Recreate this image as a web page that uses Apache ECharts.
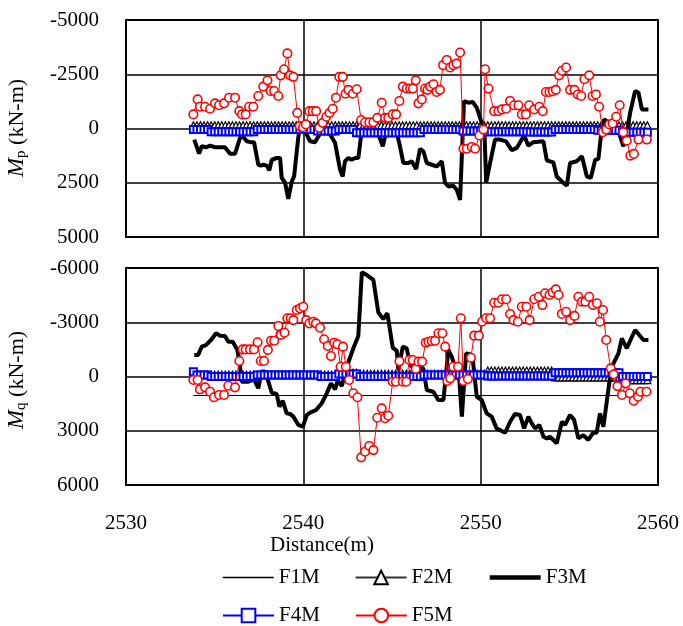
<!DOCTYPE html>
<html>
<head>
<meta charset="utf-8">
<script src="https://cdn.jsdelivr.net/npm/echarts@6/dist/echarts.min.js"></script>
<style>
html,body{margin:0;padding:0;background:#fff;}
#chart{width:683px;height:626px;}
</style>
</head>
<body>
<div id="chart"></div>
<script>
// Shared station grid for F2M / F4M markers (m)
const gridDist = [
2533.8,2534.0,2534.2,2534.4,2534.6,2534.8,2535.0,2535.2,2535.4,2535.6,
2535.8,2536.0,2536.2,2536.4,2536.6,2536.8,2537.0,2537.2,2537.4,2537.6,
2537.8,2538.0,2538.2,2538.4,2538.6,2538.8,2539.0,2539.2,2539.4,2539.6,
2539.8,2540.0,2540.2,2540.4,2540.6,2540.8,2541.0,2541.2,2541.4,2541.6,
2541.8,2542.0,2542.2,2542.4,2542.6,2542.8,2543.0,2543.2,2543.4,2543.6,
2543.8,2544.0,2544.2,2544.4,2544.6,2544.8,2545.0,2545.2,2545.4,2545.6,
2545.8,2546.0,2546.2,2546.4,2546.6,2546.8,2547.0,2547.2,2547.4,2547.6,
2547.8,2548.0,2548.2,2548.4,2548.6,2548.8,2549.0,2549.2,2549.4,2549.6,
2549.8,2550.0,2550.2,2550.4,2550.6,2550.8,2551.0,2551.2,2551.4,2551.6,
2551.8,2552.0,2552.2,2552.4,2552.6,2552.8,2553.0,2553.2,2553.4,2553.6,
2553.8,2554.0,2554.2,2554.4,2554.6,2554.8,2555.0,2555.2,2555.4,2555.6,
2555.8,2556.0,2556.2,2556.4,2556.6,2556.8,2557.0,2557.2,2557.4,2557.6,
2557.8,2558.0,2558.2,2558.4,2558.6,2558.8,2559.0,2559.2,2559.4];

// F1M (thin line)
const f1Dist = [2533.8, 2559.4];
const f1pVal = [0, 0];
const f1qVal = [1050, 1050];

// F2M (triangles) on gridDist
const f2pVal = [
-150,-150,-150,-150,-150,-150,-150,-150,-150,-150,
-150,-150,-150,-150,-150,-150,-150,-150,-150,-150,
-150,-150,-150,-150,-150,-150,-150,-150,-150,-150,
-150,-150,-150,-150,-150,-150,-150,-150,-150,-150,
-150,-150,-150,-150,-150,-150,-150,-150,-150,-150,
-150,-150,-150,-150,-150,-150,-150,-150,-150,-150,
-150,-150,-150,-150,-150,-150,-150,-150,-150,-150,
-150,-150,-150,-150,-150,-150,-150,-150,-150,-150,
-150,-150,-150,-150,-150,-150,-150,-150,-150,-150,
-150,-150,-150,-150,-150,-150,-150,-150,-150,-150,
-150,-150,-150,-150,-150,-150,-150,-150,-150,-150,
-150,-150,-150,-150,-150,-150,-150,-150,-150,-150,
-150,-150,-150,-150,-150,-150,-150,-150,-150];
const f2qVal = [
-100,-100,-100,-100,-100,-100,-100,-100,-100,-100,
-100,-100,-100,-100,-100,-100,-100,-100,-100,-100,
-100,-100,-100,-100,-100,-100,-100,-100,-100,-100,
-100,-100,-100,-100,-100,-100,-100,-100,-100,-100,
-100,-200,-200,-200,-200,-200,-200,-150,-150,-150,
-150,-150,-150,-150,-150,-150,-150,-150,-150,-150,
-150,-150,-150,-150,-150,-150,-150,-150,-150,-150,
-150,-150,-150,-150,-150,-150,-150,-150,-150,-150,
-150,-150,-150,-330,-330,-330,-330,-330,-330,-330,
-330,-330,-330,-330,-330,-330,-330,-330,-330,-330,
-330,-330,50,50,50,50,50,50,50,50,
50,50,50,50,50,50,50,50,50,50,
50,200,200,200,200,200,200,200,200];

// F4M (squares) on gridDist
const f4pVal = [
50,50,50,50,50,150,150,150,150,150,
150,150,150,150,150,150,150,150,50,50,
50,50,50,50,50,50,50,50,50,50,
50,50,50,50,50,120,120,120,120,120,
120,50,50,50,50,50,200,200,200,200,
200,200,200,200,200,200,200,200,200,200,
200,200,200,200,200,50,50,50,50,50,
50,50,50,50,50,50,120,120,120,120,
120,120,150,150,150,150,150,150,150,150,
150,150,150,150,150,160,160,160,160,160,
160,160,50,50,50,50,50,50,50,50,
50,50,50,50,80,80,80,80,80,80,
80,170,170,170,170,170,170,170,170];
const f4qVal = [
-260,-80,-80,-80,-80,0,0,0,0,0,
0,0,0,0,0,0,0,0,-80,-80,
-80,-80,-80,-80,-80,-80,-80,-80,-80,-80,
-80,-80,-80,-80,-80,-80,0,0,0,0,
0,-140,-140,-140,-140,-140,-140,0,0,0,
0,0,0,0,0,0,0,0,0,0,
0,0,0,0,0,-80,-80,-80,-80,-80,
-80,-80,-80,-80,-80,-80,-80,-80,-80,-80,
-80,-80,-80,-30,-30,-30,-30,-30,-30,-30,
-30,-30,-30,-30,-30,-30,-30,-30,-30,-30,
-30,-30,-210,-210,-210,-210,-210,-210,-210,-210,
-210,-210,-210,-210,-210,-210,-210,-210,-210,-210,
-210,0,0,0,0,0,0,0,0];

// F3M (thick line), Mp panel
const f3pDist = [2533.85,2534.12,2534.27,2534.51,2534.74,2535.02,2535.58,2535.87,2536.15,2536.43,
2536.58,2536.81,2537.03,2537.22,2537.46,2537.61,2537.74,2537.94,2538.08,2538.22,
2538.50,2538.69,2538.78,2538.97,2539.15,2539.35,2539.48,2539.63,2539.79,2540.10,
2540.38,2540.66,2540.85,2541.13,2541.51,2541.79,2542.07,2542.22,2542.35,2542.54,
2542.73,2542.92,2543.10,2543.30,2543.48,2544.14,2544.48,2544.61,2544.89,2545.27,
2545.45,2545.64,2545.92,2546.11,2546.36,2546.58,2546.77,2546.96,2547.24,2547.52,
2547.81,2547.99,2548.18,2548.46,2548.65,2548.84,2549.06,2549.31,2549.55,2549.78,
2550.06,2550.21,2550.31,2550.53,2550.81,2551.09,2551.43,2551.75,2552.04,2552.45,
2552.69,2552.97,2553.54,2553.73,2554.10,2554.29,2554.58,2554.86,2555.04,2555.42,
2555.71,2555.99,2556.21,2556.46,2556.64,2556.84,2556.97,2557.27,2557.49,2557.77,
2558.05,2558.24,2558.43,2558.71,2558.90,2559.09,2559.46];
const f3pVal = [510,1160,820,865,790,865,865,1160,1160,430,
355,590,630,630,1670,1710,1670,1710,1930,1440,
1360,1360,2280,2490,3240,2440,2210,1050,-120,125,
590,630,355,45,280,660,1900,2210,1510,1360,
1440,1360,1360,45,45,45,820,355,200,200,
820,1590,1590,1510,1870,940,1050,1590,1670,1750,
1510,2510,2670,2640,2820,3290,-1260,-1190,-1220,-960,
-260,45,2490,1590,510,510,590,1000,890,325,
790,630,590,1470,1560,2210,2440,2640,1590,1510,
1280,2210,2280,1440,1400,-110,-420,-260,-185,125,
820,200,-730,-1730,-1650,-880,-880];

// F5M (circles), Mp panel
const f5pDist = [2533.80,2534.04,2534.17,2534.46,2534.74,2535.02,2535.25,2535.53,2535.81,2536.15,
2536.39,2536.54,2536.75,2536.94,2537.18,2537.46,2537.74,2537.98,2538.16,2538.35,
2538.59,2538.72,2538.91,2539.10,2539.25,2539.44,2539.66,2539.80,2539.98,2540.14,
2540.34,2540.53,2540.72,2540.90,2541.09,2541.30,2541.48,2541.66,2541.84,2542.03,
2542.22,2542.38,2542.54,2542.79,2543.01,2543.26,2543.48,2543.72,2543.95,2544.17,
2544.42,2544.61,2544.79,2545.04,2545.23,2545.42,2545.61,2545.83,2546.02,2546.18,
2546.34,2546.49,2546.68,2546.86,2547.00,2547.15,2547.34,2547.52,2547.70,2547.88,
2548.09,2548.28,2548.46,2548.64,2548.84,2549.03,2549.22,2549.50,2549.69,2549.93,
2550.16,2550.25,2550.44,2550.76,2551.00,2551.20,2551.44,2551.66,2551.88,2552.13,
2552.32,2552.55,2552.73,2553.02,2553.31,2553.50,2553.68,2553.88,2554.06,2554.24,
2554.42,2554.58,2554.82,2555.04,2555.29,2555.48,2555.67,2555.85,2556.12,2556.31,
2556.50,2556.68,2556.89,2557.08,2557.26,2557.44,2557.64,2557.84,2558.04,2558.24,
2558.44,2558.64,2558.90,2559.37];
const f5pVal = [-650,-1340,-1000,-1000,-910,-1160,-1070,-1160,-1420,-1420,
-800,-650,-650,-1000,-1000,-1500,-1930,-2220,-1730,-1730,
-1500,-2450,-2730,-3460,-2450,-2380,-720,-110,-60,-190,
-800,-800,-800,-30,-260,-540,-720,-910,-1420,-2380,
-2380,-1600,-1780,-1600,-1810,-390,-290,-290,-290,-490,
-1190,-490,-490,-650,-650,-1270,-1930,-1840,-1840,-1840,
-2220,-1160,-1340,-1840,-1780,-1930,-2040,-1680,-1780,-2920,
-3160,-2810,-2920,-2990,-3500,930,930,850,930,320,
50,-2730,-1840,-800,-800,-880,-910,-1270,-1070,-1070,
-650,-650,-1070,-880,-1000,-800,-1680,-1680,-1720,-1780,
-2450,-2660,-2810,-1780,-1780,-1570,-1500,-2270,-2450,-1500,
-1570,-1000,170,50,-190,-230,-540,-1070,170,560,
1250,1170,510,510];

// F3M (thick line), Mq panel
const f3qDist = [2533.85,2534.07,2534.27,2534.51,2534.83,2535.08,2535.30,2535.58,2535.77,2536.02,
2536.28,2536.43,2536.53,2536.90,2537.22,2537.46,2537.65,2537.84,2538.03,2538.22,
2538.50,2538.65,2538.84,2539.06,2539.25,2539.44,2539.72,2539.97,2540.19,2540.38,
2540.72,2541.04,2541.32,2541.56,2541.79,2541.94,2542.17,2542.45,2542.82,2543.10,
2543.30,2543.58,2543.95,2544.23,2544.51,2544.74,2545.04,2545.27,2545.36,2545.61,
2545.83,2546.02,2546.21,2546.77,2546.96,2547.33,2547.61,2547.90,2548.18,2548.37,
2548.61,2548.75,2548.94,2549.18,2549.37,2549.56,2549.78,2550.06,2550.34,2550.62,
2550.90,2551.38,2551.66,2551.94,2552.22,2552.45,2552.69,2552.88,2553.07,2553.31,
2553.54,2553.73,2553.91,2554.29,2554.58,2554.76,2555.04,2555.27,2555.51,2555.79,
2556.07,2556.35,2556.54,2556.73,2556.92,2557.30,2557.49,2557.77,2557.96,2558.24,
2558.52,2558.71,2558.99,2559.18,2559.46];
const f3qVal = [-1190,-1190,-1650,-1740,-2060,-2390,-2260,-2240,-1920,-1920,
-1470,-540,290,290,160,650,-270,-270,290,900,
970,1670,1340,2040,2070,2220,2680,2780,2130,2000,
1850,1480,930,380,710,230,530,-540,-1560,-2240,
-5770,-5610,-5340,-3540,-3170,-3500,-1600,-1420,-360,-1650,
-1560,-640,-450,-450,750,840,1300,1300,-1470,-1100,
-360,-450,2220,-1280,-1240,-910,1120,1300,2040,2220,
2870,3110,2500,2070,2130,2870,2220,2590,2870,2680,
3330,3420,3330,3690,2500,2680,2130,2400,3420,3240,
3510,3110,3110,2040,2780,10,-730,-1280,-2110,-1560,
-2170,-2570,-2240,-2020,-2020];

// F5M (circles), Mq panel
const f5qDist = [2533.80,2534.04,2534.17,2534.46,2534.74,2534.96,2535.25,2535.53,2535.77,2536.15,
2536.39,2536.58,2536.75,2536.99,2537.22,2537.42,2537.60,2537.78,2538.00,2538.18,
2538.36,2538.59,2538.74,2538.94,2539.10,2539.29,2539.44,2539.63,2539.81,2540.00,
2540.16,2540.34,2540.56,2540.71,2540.94,2541.17,2541.38,2541.56,2541.74,2541.92,
2542.10,2542.24,2542.40,2542.58,2542.82,2543.05,2543.26,2543.48,2543.72,2543.95,
2544.17,2544.42,2544.61,2544.79,2545.04,2545.22,2545.42,2545.61,2545.80,2545.98,
2546.17,2546.34,2546.49,2546.70,2546.90,2547.05,2547.24,2547.43,2547.62,2547.84,
2548.00,2548.12,2548.28,2548.46,2548.72,2548.88,2549.03,2549.28,2549.45,2549.63,
2549.90,2550.08,2550.31,2550.53,2550.76,2551.00,2551.20,2551.44,2551.66,2551.85,
2552.10,2552.32,2552.58,2552.76,2553.02,2553.28,2553.48,2553.63,2553.88,2554.06,
2554.24,2554.39,2554.58,2554.82,2555.04,2555.29,2555.51,2555.71,2555.90,2556.12,
2556.33,2556.56,2556.72,2556.90,2557.08,2557.33,2557.50,2557.71,2557.97,2558.18,
2558.41,2558.63,2558.87,2559.01,2559.35];
const f5qVal = [190,190,710,600,840,1150,1020,1020,510,600,
-860,-1500,-1500,-1500,-1500,-1890,-860,-860,-1470,-1980,
-1980,-2790,-2300,-2420,-3220,-3220,-3120,-3680,-3770,-3860,
-3120,-2940,-3030,-2940,-2700,-2060,-1690,-1130,-1870,-1780,
-540,-1650,-540,190,930,1150,4470,4160,3840,4070,
2280,1760,2310,2170,290,290,-840,290,290,-910,
-910,-420,-820,-820,-1870,-1920,-1960,-1980,-2390,-2390,
-1650,250,100,-540,-540,-3220,250,140,-1040,-2260,
-2260,-3030,-3220,-3220,-4080,-4080,-4270,-4270,-3460,-3120,
-3030,-3860,-3860,-3120,-4270,-4410,-3950,-4600,-4510,-4650,
-4820,-4510,-3460,-3580,-3120,-3350,-4410,-4140,-4140,-4410,
-3950,-4050,-3030,-3680,-2020,-450,-120,530,1020,380,
930,1340,1120,840,840];

// Axis ticks
const xTicks = [2530, 2540, 2550, 2560];
const pTicks = [-5000, -2500, 0, 2500, 5000];
const qTicks = [-6000, -3000, 0, 3000, 6000];

function zip(xs, ys) { return xs.map((x, i) => [x, ys[i]]); }

const FONT = 'Liberation Serif';
const chart = echarts.init(document.getElementById('chart'), null, {renderer: 'canvas'});

function makeX(idx, showLabel) {
  return {
    gridIndex: idx, type: 'value',
    min: xTicks[0], max: xTicks[xTicks.length - 1], interval: xTicks[1] - xTicks[0],
    axisLine: {show: false}, axisTick: {show: false},
    axisLabel: {show: showLabel, fontFamily: FONT, fontSize: 21, color: '#000', margin: 28,
      formatter: v => String(v)},
    splitLine: {show: true, lineStyle: {color: '#000', width: 1.5}}
  };
}
function makeY(idx, ticks) {
  return {
    gridIndex: idx, type: 'value', inverse: true,
    min: ticks[0], max: ticks[ticks.length - 1], interval: ticks[1] - ticks[0],
    axisLine: {show: false}, axisTick: {show: false},
    axisLabel: {fontFamily: FONT, fontSize: 21, color: '#000', margin: 27, formatter: v => String(v)},
    splitLine: {show: true, lineStyle: {color: '#000', width: 1.5}}
  };
}

function thinLine(name, idx, data) {
  return {name, type: 'line', xAxisIndex: idx, yAxisIndex: idx, data, symbol: 'none',
    lineStyle: {color: '#000', width: 1}, itemStyle: {color: '#000'}, z: 2};
}
function triLine(name, idx, data) {
  return {name, type: 'line', xAxisIndex: idx, yAxisIndex: idx, data, symbol: 'triangle', symbolSize: 7,
    lineStyle: {color: '#333', width: 1}, itemStyle: {color: '#fff', borderColor: '#000', borderWidth: 1.2}, z: 3};
}
function thickLine(name, idx, data) {
  return {name, type: 'line', xAxisIndex: idx, yAxisIndex: idx, data, symbol: 'none',
    lineStyle: {color: '#000', width: 4}, itemStyle: {color: '#000'}, z: 4};
}
function sqLine(name, idx, data) {
  return {name, type: 'line', xAxisIndex: idx, yAxisIndex: idx, data, symbol: 'rect', symbolSize: 7,
    lineStyle: {color: '#0000ff', width: 1}, itemStyle: {color: '#fff', borderColor: '#0000ff', borderWidth: 2}, z: 5};
}
function circLine(name, idx, data) {
  return {name, type: 'line', xAxisIndex: idx, yAxisIndex: idx, data, symbol: 'circle', symbolSize: 8.5,
    lineStyle: {color: '#ff0000', width: 1}, itemStyle: {color: '#fff', borderColor: '#ff0000', borderWidth: 1.6}, z: 6};
}

const legendText = {fontFamily: FONT, fontSize: 21, color: '#000'};
const legendBase = {left: 222, padding: 0, itemWidth: 51, itemHeight: 17, itemGap: 35, textStyle: legendText, selectedMode: false};

chart.setOption({
  animation: false,
  backgroundColor: '#fff',
  grid: [
    {left: 126, top: 20, width: 532, height: 217, show: true, borderColor: '#000', borderWidth: 2, backgroundColor: 'transparent'},
    {left: 126, top: 268, width: 532, height: 217, show: true, borderColor: '#000', borderWidth: 2, backgroundColor: 'transparent'}
  ],
  xAxis: [makeX(0, false), makeX(1, true)],
  yAxis: [makeY(0, pTicks), makeY(1, qTicks)],
  legend: [
    Object.assign({}, legendBase, {top: 567, data: [
      {name: 'F1M', itemStyle: {opacity: 0}, lineStyle: {width: 1.5}},
      {name: 'F2M'},
      {name: 'F3M', itemStyle: {opacity: 0}, lineStyle: {width: 4.5}}]}),
    Object.assign({}, legendBase, {top: 605, data: [
      {name: 'F4M'},
      {name: 'F5M'}]})
  ],
  graphic: [
    {type: 'text', x: 17, y: 128, rotation: Math.PI / 2,
      style: {text: '{i|M}{s|p}{n| (kN-m)}', textAlign: 'center', textVerticalAlign: 'middle',
        rich: {i: {fontFamily: FONT, fontStyle: 'italic', fontSize: 23, fill: '#000'},
               s: {fontFamily: FONT, fontSize: 15, fill: '#000', verticalAlign: 'bottom', padding: [8, 0, 0, 0]},
               n: {fontFamily: FONT, fontSize: 22, fill: '#000'}}}},
    {type: 'text', x: 17, y: 380, rotation: Math.PI / 2,
      style: {text: '{i|M}{s|q}{n| (kN-m)}', textAlign: 'center', textVerticalAlign: 'middle',
        rich: {i: {fontFamily: FONT, fontStyle: 'italic', fontSize: 23, fill: '#000'},
               s: {fontFamily: FONT, fontSize: 15, fill: '#000', verticalAlign: 'bottom', padding: [8, 0, 0, 0]},
               n: {fontFamily: FONT, fontSize: 22, fill: '#000'}}}},
    {type: 'text', x: 322, y: 545,
      style: {text: 'Distance(m)', font: '21px "Liberation Serif"', fill: '#000', textAlign: 'center', textVerticalAlign: 'middle'}}
  ],
  series: [
    thinLine('F1M', 0, zip(f1Dist, f1pVal)),
    triLine('F2M', 0, zip(gridDist, f2pVal)),
    thickLine('F3M', 0, zip(f3pDist, f3pVal)),
    sqLine('F4M', 0, zip(gridDist, f4pVal)),
    circLine('F5M', 0, zip(f5pDist, f5pVal)),
    thinLine('F1M', 1, zip(f1Dist, f1qVal)),
    triLine('F2M', 1, zip(gridDist, f2qVal)),
    thickLine('F3M', 1, zip(f3qDist, f3qVal)),
    sqLine('F4M', 1, zip(gridDist, f4qVal)),
    circLine('F5M', 1, zip(f5qDist, f5qVal))
  ]
});
</script>
</body>
</html>
